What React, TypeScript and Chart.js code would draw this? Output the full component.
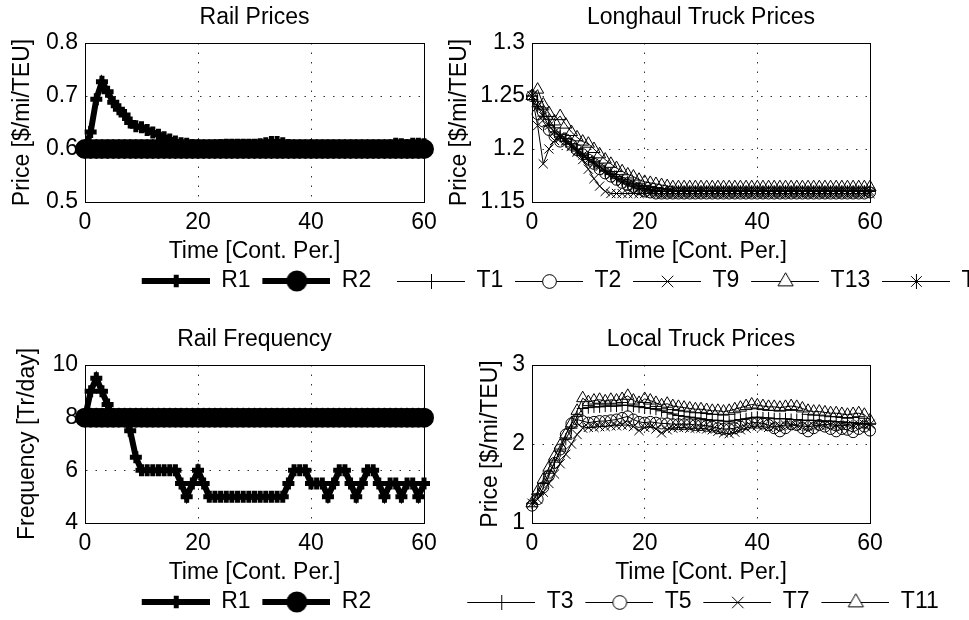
import React, { useEffect, useRef } from 'react';
import { Chart, registerables } from 'chart.js';

Chart.register(...registerables);

// ---------------- DATA ----------------
const TIME = [
  0, 1, 2, 3, 4, 5, 6, 7, 8, 9,
  10, 11, 12, 13, 14, 15, 16, 17, 18, 19,
  20, 21, 22, 23, 24, 25, 26, 27, 28, 29,
  30, 31, 32, 33, 34, 35, 36, 37, 38, 39,
  40, 41, 42, 43, 44, 45, 46, 47, 48, 49,
  50, 51, 52, 53, 54, 55, 56, 57, 58, 59,
  60,
];

const X_TICKS = [0, 20, 40, 60];
const X_TICK_LABELS = ['0', '20', '40', '60'];

// Rail prices
const RAIL_PRICE_R1 = [
  0.600, 0.632, 0.694, 0.727, 0.708, 0.688, 0.675, 0.664, 0.650, 0.643,
  0.641, 0.636, 0.631, 0.627, 0.622, 0.618, 0.614, 0.611, 0.610, 0.607,
  0.606, 0.605, 0.605, 0.606, 0.607, 0.608, 0.608, 0.608, 0.608, 0.608,
  0.608, 0.609, 0.611, 0.613, 0.613, 0.611, 0.607, 0.605, 0.605, 0.605,
  0.606, 0.605, 0.605, 0.605, 0.605, 0.604, 0.604, 0.604, 0.604, 0.604,
  0.604, 0.604, 0.604, 0.605, 0.606, 0.610, 0.609, 0.607, 0.610, 0.610,
  0.609,
];
const RAIL_PRICE_R2 = [
  0.6, 0.6, 0.6, 0.6, 0.6, 0.6, 0.6, 0.6, 0.6, 0.6,
  0.6, 0.6, 0.6, 0.6, 0.6, 0.6, 0.6, 0.6, 0.6, 0.6,
  0.6, 0.6, 0.6, 0.6, 0.6, 0.6, 0.6, 0.6, 0.6, 0.6,
  0.6, 0.6, 0.6, 0.6, 0.6, 0.6, 0.6, 0.6, 0.6, 0.6,
  0.6, 0.6, 0.6, 0.6, 0.6, 0.6, 0.6, 0.6, 0.6, 0.6,
  0.6, 0.6, 0.6, 0.6, 0.6, 0.6, 0.6, 0.6, 0.6, 0.6,
  0.6,
];
const RAIL_PRICE_TICKS = [0.5, 0.6, 0.7, 0.8];
const RAIL_PRICE_TICK_LABELS = ['0.5', '0.6', '0.7', '0.8'];

// Rail frequency
const RAIL_FREQ_R1 = [
  8, 9, 9.5, 9, 8.5, 8, 8, 8, 7.5, 6.5,
  6, 6, 6, 6, 6, 6, 6, 5.5, 5, 5.5,
  6, 5.5, 5, 5, 5, 5, 5, 5, 5, 5,
  5, 5, 5, 5, 5, 5, 5.5, 6, 6, 6,
  5.5, 5.5, 5.5, 5, 5.5, 6, 6, 5.5, 5, 5.5,
  6, 6, 5.5, 5, 5.5, 5.5, 5, 5.5, 5.5, 5,
  5.5,
];
const RAIL_FREQ_R2 = [
  8, 8, 8, 8, 8, 8, 8, 8, 8, 8,
  8, 8, 8, 8, 8, 8, 8, 8, 8, 8,
  8, 8, 8, 8, 8, 8, 8, 8, 8, 8,
  8, 8, 8, 8, 8, 8, 8, 8, 8, 8,
  8, 8, 8, 8, 8, 8, 8, 8, 8, 8,
  8, 8, 8, 8, 8, 8, 8, 8, 8, 8,
  8,
];
const RAIL_FREQ_TICKS = [4, 6, 8, 10];
const RAIL_FREQ_TICK_LABELS = ['4', '6', '8', '10'];

// Longhaul truck prices
const LH_T1 = [
  1.250, 1.245, 1.237, 1.228, 1.220, 1.214, 1.210, 1.205, 1.200, 1.196,
  1.192, 1.188, 1.184, 1.180, 1.177, 1.174, 1.171, 1.169, 1.167, 1.165,
  1.163, 1.162, 1.161, 1.160, 1.160, 1.160, 1.160, 1.160, 1.160, 1.160,
  1.160, 1.160, 1.160, 1.160, 1.160, 1.160, 1.160, 1.160, 1.160, 1.160,
  1.160, 1.160, 1.160, 1.160, 1.160, 1.160, 1.160, 1.160, 1.160, 1.160,
  1.160, 1.160, 1.160, 1.160, 1.160, 1.160, 1.160, 1.160, 1.160, 1.160,
  1.160,
];
const LH_T2 = [
  1.250, 1.233, 1.226, 1.218, 1.212, 1.207, 1.209, 1.204, 1.199, 1.195,
  1.190, 1.186, 1.181, 1.177, 1.174, 1.171, 1.168, 1.166, 1.164, 1.162,
  1.160, 1.159, 1.158, 1.158, 1.158, 1.158, 1.158, 1.158, 1.158, 1.158,
  1.158, 1.158, 1.158, 1.158, 1.158, 1.158, 1.158, 1.158, 1.158, 1.158,
  1.158, 1.158, 1.158, 1.158, 1.158, 1.158, 1.158, 1.158, 1.158, 1.158,
  1.158, 1.158, 1.158, 1.158, 1.158, 1.158, 1.158, 1.158, 1.158, 1.158,
  1.159,
];
const LH_T9 = [
  1.250, 1.222, 1.186, 1.200, 1.208, 1.211, 1.208, 1.203, 1.197, 1.190,
  1.181, 1.172, 1.165, 1.160, 1.158, 1.158, 1.158, 1.158, 1.158, 1.158,
  1.158, 1.158, 1.158, 1.158, 1.158, 1.158, 1.158, 1.158, 1.158, 1.158,
  1.158, 1.158, 1.158, 1.158, 1.158, 1.158, 1.158, 1.158, 1.158, 1.158,
  1.158, 1.158, 1.158, 1.158, 1.158, 1.158, 1.158, 1.158, 1.158, 1.158,
  1.158, 1.158, 1.158, 1.158, 1.158, 1.158, 1.158, 1.158, 1.158, 1.158,
  1.158,
];
const LH_T13 = [
  1.250, 1.256, 1.242, 1.234, 1.226, 1.231, 1.223, 1.216, 1.211, 1.207,
  1.205, 1.200, 1.195, 1.190, 1.186, 1.182, 1.179, 1.176, 1.174, 1.171,
  1.169, 1.168, 1.167, 1.166, 1.165, 1.164, 1.164, 1.164, 1.164, 1.164,
  1.164, 1.164, 1.164, 1.164, 1.164, 1.164, 1.164, 1.164, 1.164, 1.164,
  1.164, 1.164, 1.164, 1.164, 1.164, 1.164, 1.164, 1.164, 1.164, 1.164,
  1.164, 1.164, 1.164, 1.164, 1.164, 1.164, 1.164, 1.164, 1.164, 1.164,
  1.164,
];
const LH_T15 = [
  1.250, 1.240, 1.231, 1.222, 1.216, 1.212, 1.207, 1.202, 1.198, 1.194,
  1.190, 1.187, 1.183, 1.179, 1.176, 1.172, 1.169, 1.167, 1.165, 1.163,
  1.162, 1.161, 1.160, 1.160, 1.160, 1.160, 1.160, 1.160, 1.160, 1.160,
  1.160, 1.160, 1.160, 1.160, 1.160, 1.160, 1.160, 1.160, 1.160, 1.160,
  1.160, 1.160, 1.160, 1.160, 1.160, 1.160, 1.160, 1.160, 1.160, 1.160,
  1.160, 1.160, 1.160, 1.160, 1.160, 1.160, 1.160, 1.160, 1.160, 1.160,
  1.160,
];
const LH_TICKS = [1.15, 1.2, 1.25, 1.3];
const LH_TICK_LABELS = ['1.15', '1.2', '1.25', '1.3'];

// Local truck prices
const LOC_T3 = [
  1.25, 1.37, 1.50, 1.63, 1.77, 1.91, 2.06, 2.20, 2.35, 2.45,
  2.46, 2.47, 2.47, 2.48, 2.48, 2.48, 2.49, 2.49, 2.48, 2.47,
  2.46, 2.45, 2.44, 2.42, 2.40, 2.38, 2.36, 2.35, 2.34, 2.33,
  2.32, 2.31, 2.30, 2.30, 2.29, 2.28, 2.30, 2.31, 2.32, 2.33,
  2.34, 2.33, 2.33, 2.32, 2.32, 2.32, 2.31, 2.31, 2.30, 2.30,
  2.30, 2.29, 2.29, 2.29, 2.28, 2.28, 2.27, 2.27, 2.26, 2.26,
  2.25,
];
const LOC_T5 = [
  1.22, 1.30, 1.45, 1.60, 1.76, 1.93, 2.12, 2.26, 2.31, 2.29,
  2.27, 2.28, 2.29, 2.29, 2.30, 2.31, 2.33, 2.35, 2.31, 2.28,
  2.27, 2.28, 2.27, 2.26, 2.26, 2.25, 2.25, 2.25, 2.25, 2.24,
  2.24, 2.23, 2.22, 2.20, 2.19, 2.19, 2.20, 2.22, 2.25, 2.27,
  2.27, 2.26, 2.24, 2.20, 2.16, 2.20, 2.25, 2.24, 2.20, 2.16,
  2.20, 2.24, 2.22, 2.19, 2.16, 2.19, 2.18, 2.15, 2.19, 2.22,
  2.17,
];
const LOC_T7 = [
  1.25, 1.30, 1.39, 1.50, 1.62, 1.75, 1.87, 2.00, 2.12, 2.20,
  2.21, 2.21, 2.22, 2.22, 2.23, 2.23, 2.24, 2.24, 2.22, 2.17,
  2.21, 2.22, 2.19, 2.14, 2.18, 2.20, 2.21, 2.21, 2.20, 2.20,
  2.20, 2.19, 2.18, 2.16, 2.14, 2.13, 2.15, 2.18, 2.20, 2.22,
  2.23, 2.22, 2.21, 2.22, 2.23, 2.24, 2.24, 2.23, 2.23, 2.22,
  2.23, 2.24, 2.25, 2.24, 2.24, 2.23, 2.24, 2.24, 2.25, 2.25,
  2.25,
];
const LOC_T11 = [
  1.25, 1.40, 1.55, 1.70, 1.84, 1.98, 2.12, 2.26, 2.42, 2.58,
  2.53, 2.55, 2.56, 2.54, 2.56, 2.55, 2.57, 2.61, 2.55, 2.52,
  2.57, 2.55, 2.52, 2.49, 2.51, 2.48, 2.47, 2.46, 2.45, 2.44,
  2.44, 2.43, 2.42, 2.42, 2.41, 2.42, 2.44, 2.46, 2.48, 2.50,
  2.49, 2.48, 2.47, 2.47, 2.46, 2.47, 2.48, 2.47, 2.45, 2.42,
  2.41, 2.41, 2.40, 2.39, 2.39, 2.38, 2.37, 2.38, 2.39, 2.37,
  2.30,
];
const LOC_TICKS = [1, 2, 3];
const LOC_TICK_LABELS = ['1', '2', '3'];

// ---------------- STYLE / LAYOUT ----------------
const FONT = "'Liberation Sans', Arial, Helvetica, sans-serif";
const FS = 23;
const LH = FS * 1.2;
const GRID_COLOR = 'rgba(0,0,0,0.8)';
const X_AXIS_H = 63.8;
const LEGEND_PAD = 3.7;
const LEGEND_BOX_W = 76;
const LEGEND_H = FS + LEGEND_PAD + 10;

type Marker = 'cross' | 'circle' | 'crossRot' | 'triangle' | 'star';
interface SeriesSpec {
  label: string;
  values: number[];
  marker: Marker;
  heavy: boolean;
  filled: boolean;
}
interface PanelSpec {
  title: string;
  yTitle: string;
  yMin: number;
  yMax: number;
  yTicks: number[];
  yTickLabels: string[];
  series: SeriesSpec[];
  canvasLeft: number;
  canvasTop: number;
  canvasH: number;
  plotLeft: number;
  plotRight: number;
  plotTop: number;
  plotBottom: number;
  titleY: number;
  yTitleX: number;
  legendCenter: number;
}

function markerRadius(s: SeriesSpec): number {
  if (s.heavy) return s.marker === 'circle' ? 9 : 6;
  if (s.marker === 'triangle') return 7;
  if (s.marker === 'crossRot') return 6.5;
  if (s.marker === 'circle') return 5.5;
  return 6;
}

function drawMarker(ctx: CanvasRenderingContext2D, s: SeriesSpec, cx: number, cy: number, scale: number) {
  const r = markerRadius(s) * scale;
  ctx.save();
  ctx.strokeStyle = '#000';
  ctx.fillStyle = '#000';
  ctx.lineWidth = s.heavy ? (s.marker === 'circle' ? 2 : 5) : 1;
  ctx.beginPath();
  if (s.marker === 'circle') {
    ctx.arc(cx, cy, r, 0, Math.PI * 2);
    if (s.filled) ctx.fill();
    else { ctx.fillStyle = '#fff'; ctx.fill(); }
    ctx.stroke();
  } else if (s.marker === 'cross') {
    ctx.moveTo(cx - r, cy); ctx.lineTo(cx + r, cy);
    ctx.moveTo(cx, cy - r); ctx.lineTo(cx, cy + r);
    ctx.stroke();
  } else if (s.marker === 'crossRot') {
    const d = r * Math.SQRT1_2;
    ctx.moveTo(cx - d, cy - d); ctx.lineTo(cx + d, cy + d);
    ctx.moveTo(cx - d, cy + d); ctx.lineTo(cx + d, cy - d);
    ctx.stroke();
  } else if (s.marker === 'triangle') {
    for (let k = 0; k < 3; k++) {
      const a = -Math.PI / 2 + k * (2 * Math.PI / 3);
      const px = cx + Math.cos(a) * r;
      const py = cy + Math.sin(a) * r;
      if (k === 0) ctx.moveTo(px, py); else ctx.lineTo(px, py);
    }
    ctx.closePath();
    ctx.fillStyle = '#fff';
    ctx.fill();
    ctx.stroke();
  } else if (s.marker === 'star') {
    const d = r * Math.SQRT1_2;
    ctx.moveTo(cx - r, cy); ctx.lineTo(cx + r, cy);
    ctx.moveTo(cx, cy - r); ctx.lineTo(cx, cy + r);
    ctx.moveTo(cx - d, cy - d); ctx.lineTo(cx + d, cy + d);
    ctx.moveTo(cx - d, cy + d); ctx.lineTo(cx + d, cy - d);
    ctx.stroke();
  }
  ctx.restore();
}

function legendImage(s: SeriesSpec): HTMLCanvasElement {
  const c = document.createElement('canvas');
  c.width = LEGEND_BOX_W;
  c.height = 26;
  const ctx = c.getContext('2d') as CanvasRenderingContext2D;
  const cy = s.heavy ? 13 : 13.5;
  const x0 = LEGEND_BOX_W - 68;
  ctx.strokeStyle = '#000';
  ctx.lineWidth = s.heavy ? 6 : 1;
  ctx.beginPath();
  ctx.moveTo(x0, cy);
  ctx.lineTo(LEGEND_BOX_W, cy);
  ctx.stroke();
  drawMarker(ctx, s, Math.round((x0 + LEGEND_BOX_W) / 2) + 0.5, cy, s.heavy ? 1.05 : 1.25);
  return c;
}

function canvasWidth(p: PanelSpec): number {
  return 2 * (p.legendCenter - 4 - p.canvasLeft);
}

function buildConfig(p: PanelSpec): any {
  const W = canvasWidth(p);
  const canvasRight = p.canvasLeft + W;
  const titlePadTop = p.titleY - p.canvasTop - LH / 2;
  const titlePadBottom = p.plotTop - p.canvasTop - titlePadTop - LH;
  const padBottom = p.canvasH - (p.plotBottom - p.canvasTop) - X_AXIS_H - LEGEND_H;
  const font = { family: FONT, size: FS, weight: 'normal' as const };
  const n = p.series.length;
  const images = p.series.map(legendImage);

  const datasets = p.series.map((s, i) => ({
    label: s.label,
    data: TIME.map((t, k) => ({ x: t, y: s.values[k] })),
    borderColor: '#000',
    backgroundColor: '#000',
    borderWidth: s.heavy ? 6 : 1,
    pointStyle: s.marker,
    pointRadius: markerRadius(s),
    pointBorderWidth: s.heavy ? (s.marker === 'circle' ? 2 : 5) : 1,
    pointBorderColor: '#000',
    pointBackgroundColor: s.filled ? '#000' : 'rgba(0,0,0,0)',
    pointHoverRadius: markerRadius(s),
    tension: 0,
    fill: false,
    clip: false,
    order: n - i,
  }));

  return {
    type: 'line',
    data: { datasets },
    options: {
      responsive: false,
      maintainAspectRatio: false,
      animation: false,
      devicePixelRatio: 1,
      events: [],
      layout: { padding: { left: 0, right: 0, top: 0, bottom: padBottom } },
      plugins: {
        tooltip: { enabled: false },
        title: {
          display: true,
          text: p.title,
          fullSize: false,
          color: '#000',
          font,
          padding: { top: titlePadTop, bottom: titlePadBottom },
        },
        legend: {
          display: true,
          position: 'bottom',
          align: 'center',
          labels: {
            usePointStyle: true,
            pointStyleWidth: LEGEND_BOX_W,
            padding: LEGEND_PAD,
            color: '#000',
            font,
            generateLabels: () =>
              p.series.map((s, i) => ({
                text: s.label,
                pointStyle: images[i],
                datasetIndex: i,
                hidden: false,
                lineWidth: 0,
                fillStyle: 'rgba(0,0,0,0)',
                strokeStyle: 'rgba(0,0,0,0)',
                fontColor: '#000',
              })),
          },
        },
      },
      scales: {
        x: {
          type: 'linear',
          position: 'bottom',
          min: 0,
          max: 60,
          afterBuildTicks: (s: any) => { s.ticks = X_TICKS.map((v) => ({ value: v })); },
          afterFit: (s: any) => { s.height = X_AXIS_H; },
          ticks: {
            color: '#000',
            font,
            padding: 7.2,
            autoSkip: false,
            maxRotation: 0,
            callback: (_v: any, i: number) => X_TICK_LABELS[i],
          },
          grid: { display: true, drawTicks: false, color: GRID_COLOR, lineWidth: 1 },
          border: { display: true, color: '#000', width: 1, dash: [1.5, 8] },
          title: { display: true, text: 'Time [Cont. Per.]', color: '#000', font, padding: { top: 0, bottom: 0 } },
        },
        y: {
          type: 'linear',
          position: 'left',
          min: p.yMin,
          max: p.yMax,
          afterBuildTicks: (s: any) => { s.ticks = p.yTicks.map((v) => ({ value: v })); },
          afterFit: (s: any) => { s.width = p.plotLeft - p.canvasLeft; },
          ticks: {
            color: '#000',
            font,
            padding: 7,
            autoSkip: false,
            callback: (_v: any, i: number) => p.yTickLabels[i],
          },
          grid: { display: true, drawTicks: false, color: GRID_COLOR, lineWidth: 1 },
          border: { display: true, color: '#000', width: 1, dash: [1.5, 8] },
          title: {
            display: true,
            text: p.yTitle,
            color: '#000',
            font,
            padding: { top: p.yTitleX - p.canvasLeft - LH / 2, bottom: 0 },
          },
        },
        xTop: {
          type: 'linear',
          axis: 'x',
          position: 'top',
          display: true,
          min: 0,
          max: 60,
          afterFit: (s: any) => { s.height = 0; },
          ticks: { display: false },
          grid: { display: false, drawTicks: false },
          border: { display: true, color: '#000', width: 1 },
        },
        yRight: {
          type: 'linear',
          axis: 'y',
          position: 'right',
          display: true,
          min: p.yMin,
          max: p.yMax,
          afterFit: (s: any) => { s.width = canvasRight - p.plotRight; },
          ticks: { display: false },
          grid: { display: false, drawTicks: false },
          border: { display: true, color: '#000', width: 1 },
        },
      },
    },
  };
}

// ---------------- PANELS ----------------
const PANELS: PanelSpec[] = [
  {
    title: 'Rail Prices',
    yTitle: 'Price [$/mi/TEU]',
    yMin: 0.5, yMax: 0.8,
    yTicks: RAIL_PRICE_TICKS, yTickLabels: RAIL_PRICE_TICK_LABELS,
    series: [
      { label: 'R1', values: RAIL_PRICE_R1, marker: 'cross', heavy: true, filled: true },
      { label: 'R2', values: RAIL_PRICE_R2, marker: 'circle', heavy: true, filled: true },
    ],
    canvasLeft: 0, canvasTop: 0, canvasH: 310,
    plotLeft: 85, plotRight: 424, plotTop: 43, plotBottom: 202,
    titleY: 18, yTitleX: 23, legendCenter: 256.5,
  },
  {
    title: 'Longhaul Truck Prices',
    yTitle: 'Price [$/mi/TEU]',
    yMin: 1.15, yMax: 1.3,
    yTicks: LH_TICKS, yTickLabels: LH_TICK_LABELS,
    series: [
      { label: 'T1', values: LH_T1, marker: 'cross', heavy: false, filled: false },
      { label: 'T2', values: LH_T2, marker: 'circle', heavy: false, filled: false },
      { label: 'T9', values: LH_T9, marker: 'crossRot', heavy: false, filled: false },
      { label: 'T13', values: LH_T13, marker: 'triangle', heavy: false, filled: false },
      { label: 'T15', values: LH_T15, marker: 'star', heavy: false, filled: false },
    ],
    canvasLeft: 300, canvasTop: 0, canvasH: 310,
    plotLeft: 532, plotRight: 870, plotTop: 43, plotBottom: 202,
    titleY: 18, yTitleX: 460, legendCenter: 699,
  },
  {
    title: 'Rail Frequency',
    yTitle: 'Frequency [Tr/day]',
    yMin: 4, yMax: 10,
    yTicks: RAIL_FREQ_TICKS, yTickLabels: RAIL_FREQ_TICK_LABELS,
    series: [
      { label: 'R1', values: RAIL_FREQ_R1, marker: 'cross', heavy: true, filled: true },
      { label: 'R2', values: RAIL_FREQ_R2, marker: 'circle', heavy: true, filled: true },
    ],
    canvasLeft: 0, canvasTop: 322, canvasH: 302,
    plotLeft: 85, plotRight: 424, plotTop: 365, plotBottom: 523,
    titleY: 340, yTitleX: 28, legendCenter: 256.5,
  },
  {
    title: 'Local Truck Prices',
    yTitle: 'Price [$/mi/TEU]',
    yMin: 1, yMax: 3,
    yTicks: LOC_TICKS, yTickLabels: LOC_TICK_LABELS,
    series: [
      { label: 'T3', values: LOC_T3, marker: 'cross', heavy: false, filled: false },
      { label: 'T5', values: LOC_T5, marker: 'circle', heavy: false, filled: false },
      { label: 'T7', values: LOC_T7, marker: 'crossRot', heavy: false, filled: false },
      { label: 'T11', values: LOC_T11, marker: 'triangle', heavy: false, filled: false },
    ],
    canvasLeft: 300, canvasTop: 322, canvasH: 302,
    plotLeft: 532, plotRight: 870, plotTop: 365, plotBottom: 523,
    titleY: 340, yTitleX: 491, legendCenter: 703,
  },
];

function Panel({ spec }: { spec: PanelSpec }) {
  const ref = useRef<HTMLCanvasElement>(null);
  const W = canvasWidth(spec);
  useEffect(() => {
    if (!ref.current) return;
    const chart = new Chart(ref.current, buildConfig(spec));
    return () => chart.destroy();
  }, [spec]);
  return (
    <canvas
      ref={ref}
      width={W}
      height={spec.canvasH}
      style={{ position: 'absolute', left: spec.canvasLeft, top: spec.canvasTop, width: W, height: spec.canvasH }}
    />
  );
}

export default function App() {
  return (
    <div
      style={{
        position: 'fixed',
        left: 0,
        top: 0,
        width: 969,
        height: 620,
        overflow: 'hidden',
        background: '#fff',
      }}
    >
      {PANELS.map((p, i) => (
        <Panel key={i} spec={p} />
      ))}
    </div>
  );
}
